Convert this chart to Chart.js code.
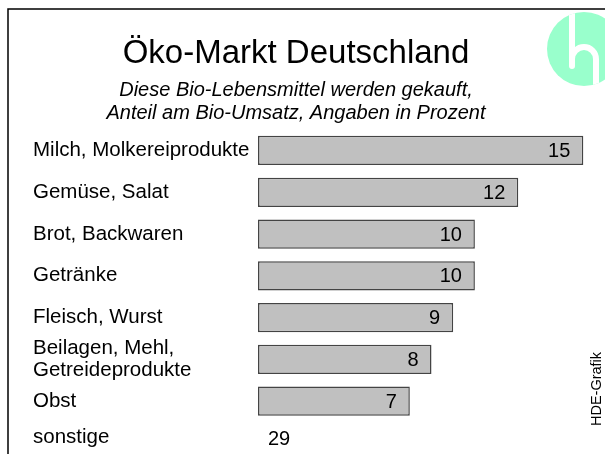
<!DOCTYPE html>
<html>
<head>
<meta charset="utf-8">
<script src="https://cdn.jsdelivr.net/npm/chart.js@4.4.1/dist/chart.umd.min.js"></script>
<style>
  html, body { margin: 0; padding: 0; background: #fff; }
  canvas { display: block; }
</style>
</head>
<body>
<canvas id="c" width="605" height="454"></canvas>
<script>
const titleText = "Öko-Markt Deutschland";
const subtitleLines = ["Diese Bio-Lebensmittel werden gekauft,", "Anteil am Bio-Umsatz, Angaben in Prozent"];
const categories = ["Milch, Molkereiprodukte", "Gemüse, Salat", "Brot, Backwaren", "Getränke", "Fleisch, Wurst", ["Beilagen, Mehl,", "Getreideprodukte"], "Obst"];
const values = [15, 12, 10, 10, 9, 8, 7];
const otherLabel = "sonstige";
const otherValue = 29;
const sourceText = "HDE-Grafik";

const FONT = "'Liberation Sans', Arial, Helvetica, sans-serif";

const decorPlugin = {
  id: 'decor',
  beforeDraw(chart) {
    const ctx = chart.ctx;
    ctx.save();
    ctx.fillStyle = '#fff';
    ctx.fillRect(0, 0, chart.width, chart.height);
    // frame
    ctx.strokeStyle = '#000';
    ctx.lineWidth = 1.5;
    ctx.beginPath();
    ctx.moveTo(8, chart.height);
    ctx.lineTo(8, 9);
    ctx.lineTo(chart.width, 9);
    ctx.stroke();
    // logo
    const cx = 584, cy = 49, r = 37;
    ctx.fillStyle = '#99FFCC';
    ctx.beginPath();
    ctx.arc(cx, cy, r, 0, Math.PI * 2);
    ctx.fill();
    ctx.save();
    ctx.beginPath();
    ctx.arc(cx, cy, r, 0, Math.PI * 2);
    ctx.clip();
    ctx.strokeStyle = '#fff';
    ctx.lineWidth = 6;
    ctx.lineCap = 'round';
    ctx.beginPath();
    ctx.moveTo(572, 0);
    ctx.lineTo(572, 66);
    ctx.stroke();
    ctx.lineCap = 'butt';
    ctx.beginPath();
    ctx.arc(584, 59, 12, Math.PI, 0);
    ctx.lineTo(596, 100);
    ctx.stroke();
    ctx.restore();
    // title
    ctx.fillStyle = '#000';
    ctx.textAlign = 'center';
    ctx.textBaseline = 'alphabetic';
    ctx.font = '33px ' + FONT;
    ctx.fillText(titleText, 296, 63);
    ctx.font = 'italic 20px ' + FONT;
    ctx.fillText(subtitleLines[0], 296, 96);
    ctx.fillText(subtitleLines[1], 296, 119);
    // source
    ctx.save();
    ctx.translate(601, 389);
    ctx.rotate(-Math.PI / 2);
    ctx.font = '14.5px ' + FONT;
    ctx.textAlign = 'center';
    ctx.textBaseline = 'alphabetic';
    ctx.fillText(sourceText, 0, 0);
    ctx.restore();
    ctx.restore();
  },
  afterDatasetsDraw(chart) {
    const ctx = chart.ctx;
    const meta = chart.getDatasetMeta(0);
    const ds = chart.data.datasets[0];
    ctx.save();
    ctx.fillStyle = '#000';
    ctx.font = '20px ' + FONT;
    ctx.textAlign = 'right';
    ctx.textBaseline = 'middle';
    meta.data.forEach((bar, i) => {
      ctx.fillText(String(ds.data[i]), bar.x - 13, bar.y + 1);
    });
    // "sonstige" row
    const yScale = chart.scales.y;
    const xScale = chart.scales.x;
    const n = categories.length;
    const step = yScale.getPixelForValue(n - 1) - yScale.getPixelForValue(n - 2);
    const yOther = yScale.getPixelForValue(n - 1) + step * 0.86;
    ctx.textAlign = 'left';
    ctx.font = '20.5px ' + FONT;
    ctx.fillText(otherLabel, yScale.left, yOther);
    ctx.font = '20px ' + FONT;
    ctx.fillText(String(otherValue), xScale.getPixelForValue(0) + 10, yOther + 2);
    ctx.restore();
  }
};

new Chart(document.getElementById('c'), {
  type: 'bar',
  data: {
    labels: categories,
    datasets: [{
      data: values,
      backgroundColor: '#C0C0C0',
      borderColor: '#444444',
      borderWidth: 1.5,
      borderSkipped: false,
      categoryPercentage: 1,
      barPercentage: 0.7
    }]
  },
  options: {
    indexAxis: 'y',
    responsive: false,
    animation: false,
    events: [],
    layout: { padding: { left: 33, top: 129.6, right: 0, bottom: 32 } },
    plugins: { legend: { display: false }, tooltip: { enabled: false }, title: { display: false } },
    scales: {
      x: { display: false, min: 0, max: 16 },
      y: {
        offset: true,
        grid: { display: false },
        border: { display: false },
        afterFit(scale) { scale.width = 225; },
        ticks: {
          autoSkip: false,
          crossAlign: 'far',
          color: '#000',
          font: { family: FONT, size: 20.5, lineHeight: 1.12 }
        }
      }
    }
  },
  plugins: [decorPlugin]
});
</script>
</body>
</html>
